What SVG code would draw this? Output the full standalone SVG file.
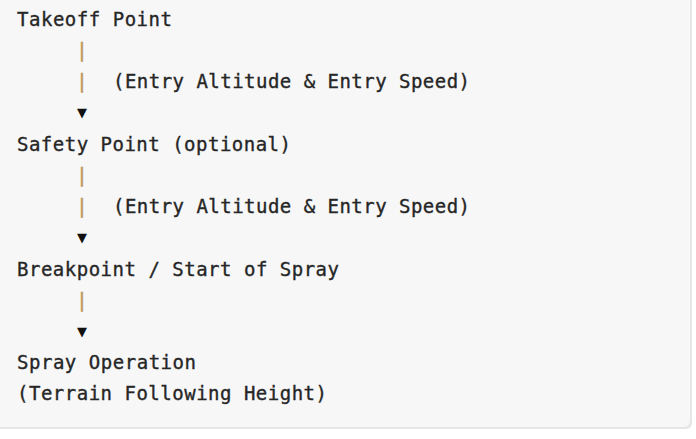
<svg xmlns="http://www.w3.org/2000/svg" width="696" height="439" viewBox="0 0 696 439">
  <style>
    .t { font-family: "DejaVu Sans Mono", "Liberation Mono", monospace; font-size: 19px; fill: #262626; stroke: #262626; stroke-width: 0.35px; }
    .pipe { font-family: "DejaVu Sans Mono", "Liberation Mono", monospace; font-size: 19px; fill: #c0965e; stroke: #c0965e; stroke-width: 0.5px; text-anchor: middle; }
    .arr { font-family: "DejaVu Sans", sans-serif; font-size: 13px; fill: #111; text-anchor: middle; }
  </style>
  <rect x="0" y="0" width="696" height="439" fill="#ffffff"/>
  <rect x="-10" y="-10" width="702" height="439" rx="6" fill="#e6e6e6"/>
  <rect x="-10" y="-10" width="700" height="437" rx="6" fill="#f7f7f7"/>

  <g id="node-takeoff">
    <text class="t" x="17" y="26" textLength="155" lengthAdjust="spacing">Takeoff Point</text>
  </g>
  <g id="node-safety">
    <text class="t" x="17" y="151" textLength="274" lengthAdjust="spacing">Safety Point (optional)</text>
  </g>
  <g id="node-breakpoint">
    <text class="t" x="17" y="276" textLength="322" lengthAdjust="spacing">Breakpoint / Start of Spray</text>
  </g>
  <g id="node-spray">
    <text class="t" x="17" y="369" textLength="179" lengthAdjust="spacing">Spray Operation</text>
    <text class="t" x="17" y="400" textLength="310" lengthAdjust="spacing">(Terrain Following Height)</text>
  </g>

  <g id="connectors">
    <g id="edge-1">
      <text class="pipe" x="82" y="57">|</text>
      <text class="pipe" x="82" y="88">|</text>
      <text class="t" x="113" y="88" textLength="357" lengthAdjust="spacing">(Entry Altitude &amp; Entry Speed)</text>
      <text class="arr" x="82" y="117">▼</text>
    </g>
    <g id="edge-2">
      <text class="pipe" x="82" y="182">|</text>
      <text class="pipe" x="82" y="213">|</text>
      <text class="t" x="113" y="213" textLength="357" lengthAdjust="spacing">(Entry Altitude &amp; Entry Speed)</text>
      <text class="arr" x="82" y="242">▼</text>
    </g>
    <g id="edge-3">
      <text class="pipe" x="82" y="307">|</text>
      <text class="arr" x="82" y="336">▼</text>
    </g>
  </g>
</svg>
